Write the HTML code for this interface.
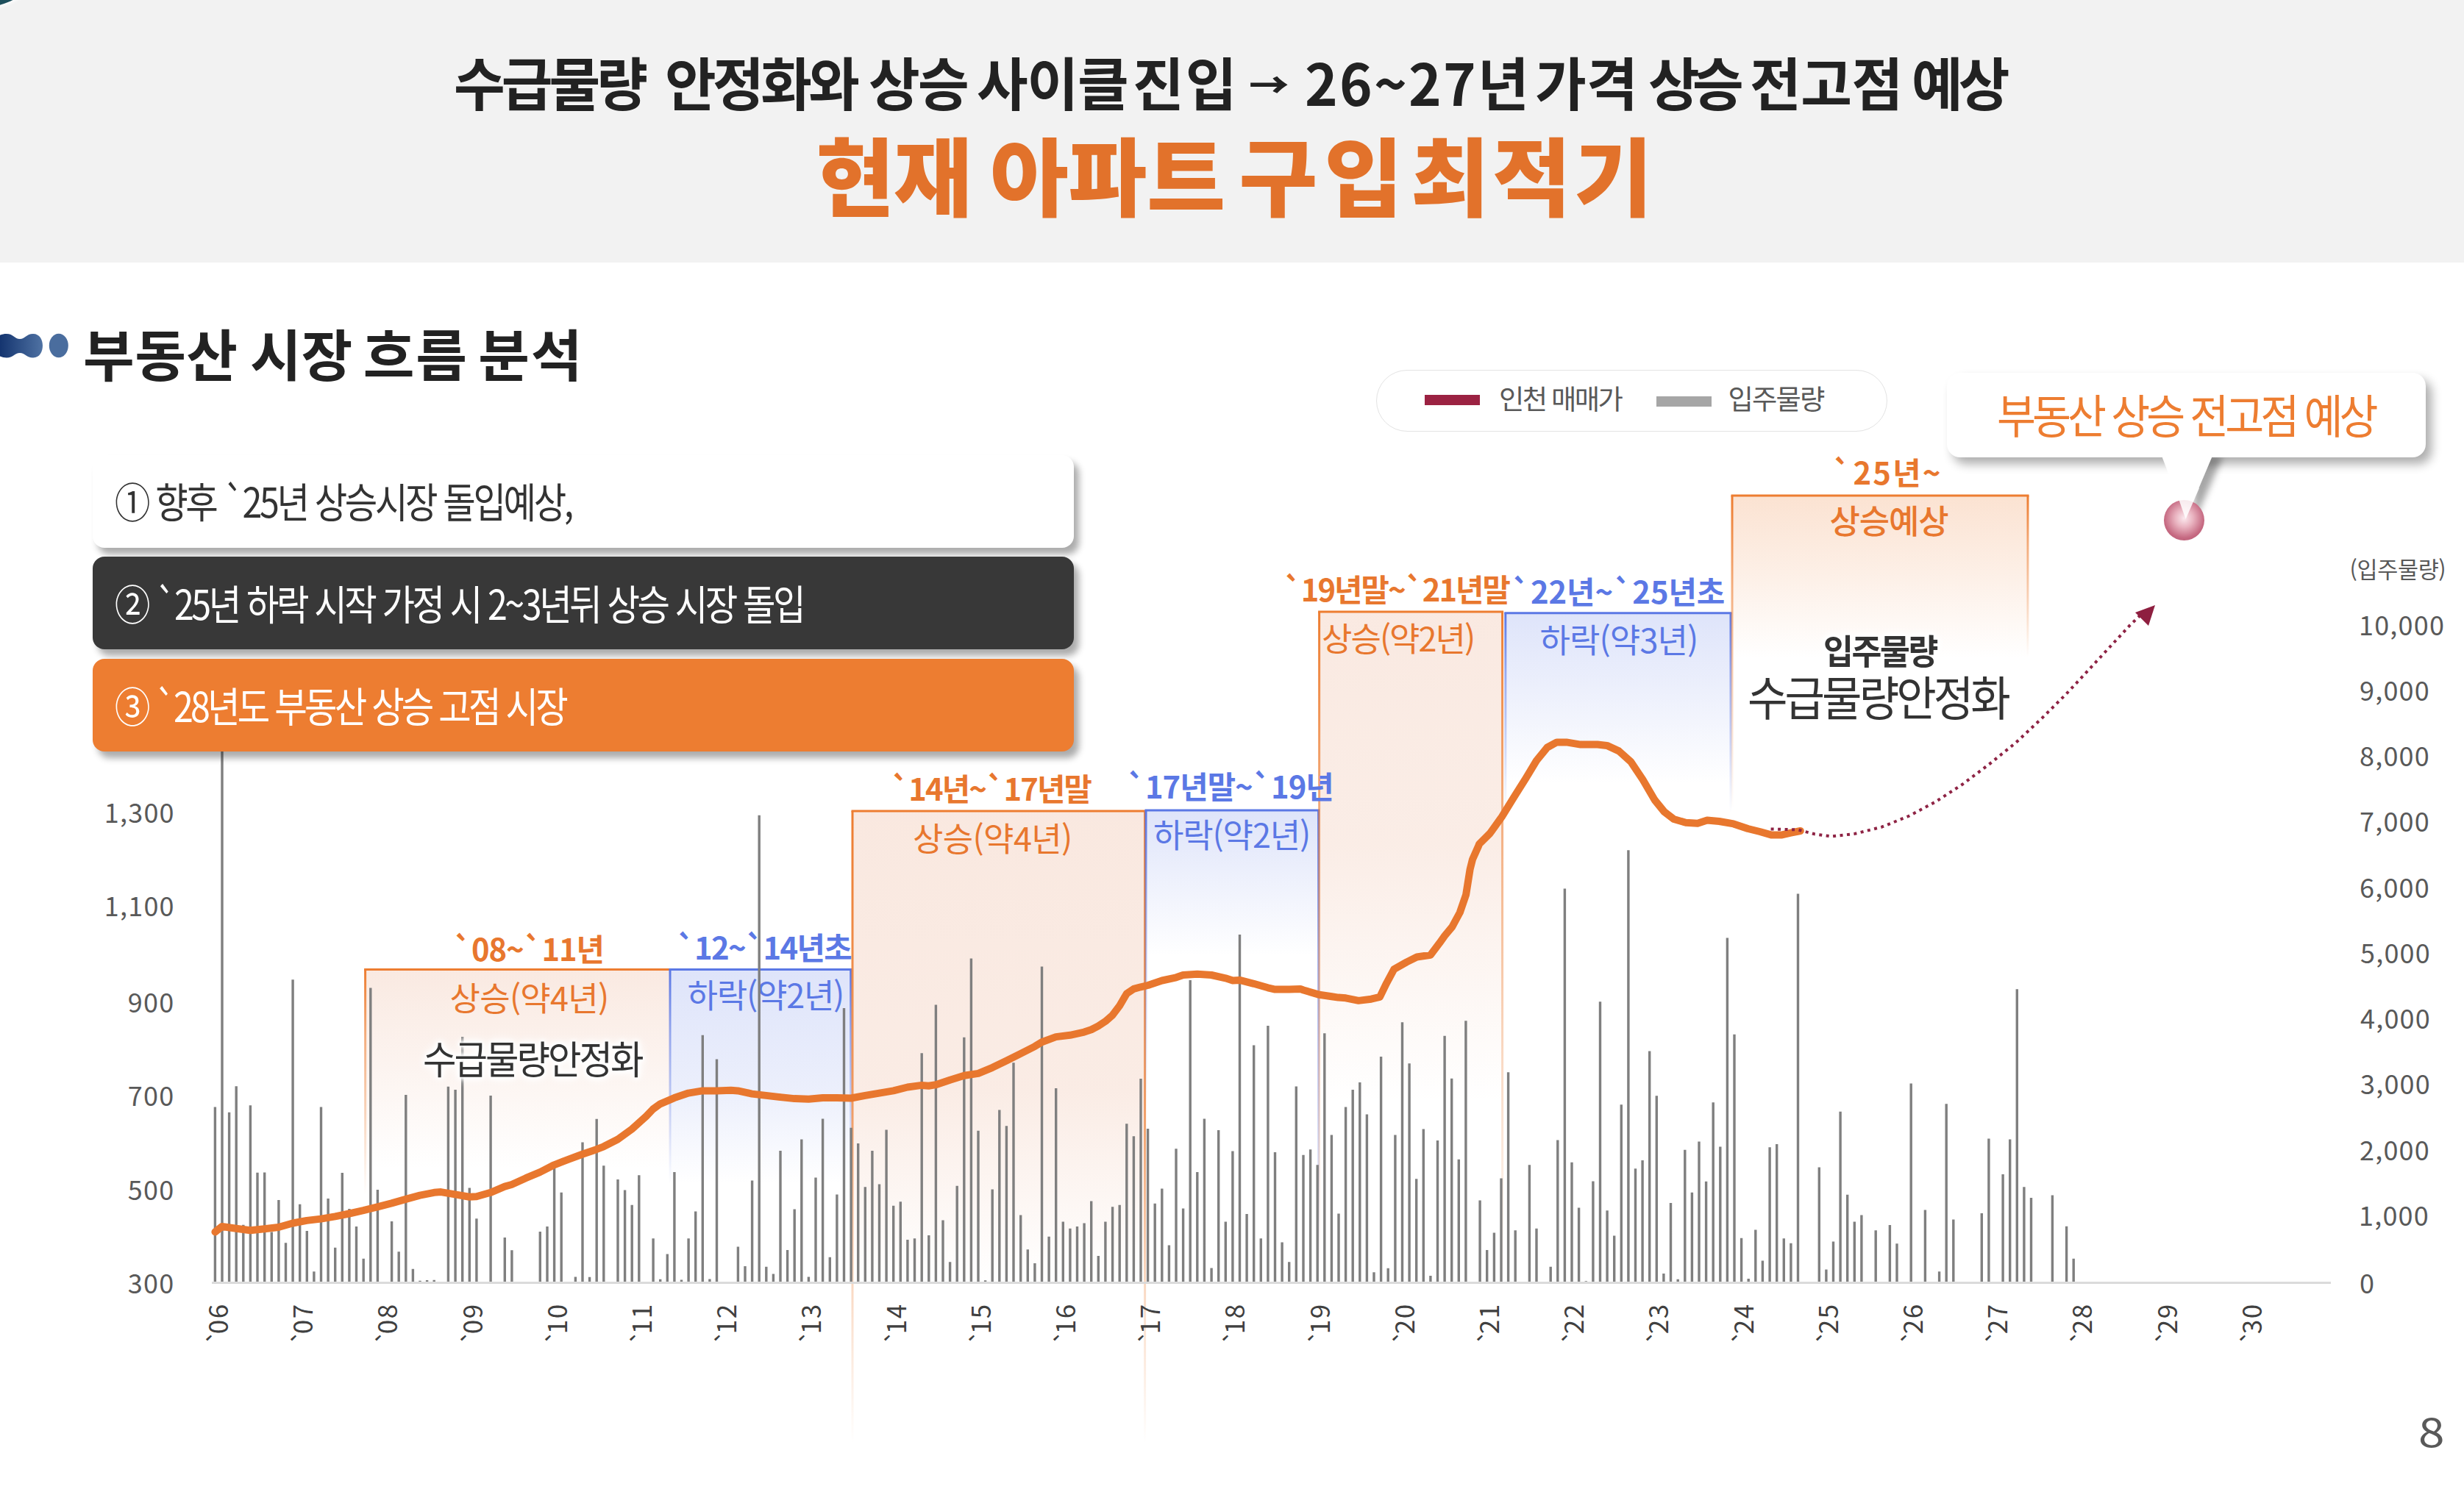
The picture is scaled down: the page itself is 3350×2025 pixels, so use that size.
<!DOCTYPE html>
<html lang="ko"><head><meta charset="utf-8"><title>부동산 시장 흐름 분석</title>
<style>
html,body{margin:0;padding:0;background:#fff}
body{width:3350px;height:2025px;position:relative;overflow:hidden;font-family:'Noto Sans CJK KR', 'Liberation Sans', sans-serif}
.t{position:absolute;white-space:pre;margin:0}
.g{position:absolute;left:0;top:0}
.hdr{position:absolute;left:0;top:0;width:3350px;height:357px;background:#f2f2f2}
.corner{position:absolute;left:-138px;top:-204.8px;width:216px;height:216px;border-radius:50%;background:#1d4f5c;box-shadow:0 3px 4px rgba(255,255,255,.8)}
.bx{position:absolute;left:126px;width:1334px;height:126px;border-radius:16px;box-shadow:7px 9px 10px rgba(0,0,0,.33)}
.legend{position:absolute;left:1871px;top:503px;width:693px;height:82px;border:1.5px solid #e3e3e3;border-radius:43px;background:#fff}
.sw{position:absolute;height:14px;width:75px}
.call{position:absolute;left:2647px;top:507px;width:651px;height:114.5px;border-radius:18px;background:#fff;box-shadow:8px 9px 14px rgba(0,0,0,.32)}
.ball{position:absolute;left:2941.5px;top:679.5px;width:55px;height:55px;border-radius:50%;background:radial-gradient(circle at 50% 45%,#fbe9ee 0%,#e9b3c0 30%,#c66a82 65%,#ad4c66 100%)}
</style></head><body>
<div class="hdr"></div><div class="corner"></div>
<svg class="g" width="100" height="60" style="left:0;top:440px" viewBox="0 0 100 60"><defs><linearGradient id="ig" x1="0" x2="1" y1="0" y2="0"><stop offset="0" stop-color="#0c2c68"/><stop offset="1" stop-color="#4f72a3"/></linearGradient></defs>
<path d="M-8 30 C-8 18 0 14 9 14 C18 14 20 21 27 21 C34 21 36 14 45 14 C54 14 58 22 58 30 C58 38 54 46.5 45 46.5 C36 46.5 34 40 27 40 C20 40 18 46.5 9 46.5 C0 46.5 -8 42 -8 30Z" fill="url(#ig)"/><ellipse cx="79.8" cy="30" rx="13" ry="16.2" fill="#4a6d9e"/></svg>
<svg class="g" width="3350" height="2025" viewBox="0 0 3350 2025"><defs><linearGradient id="b1f" gradientUnits="userSpaceOnUse" x1="0" y1="1318.6" x2="0" y2="1590"><stop offset="0.000" stop-color="#e1875a" stop-opacity="0.18"/><stop offset="0.447" stop-color="#e1875a" stop-opacity="0.1"/><stop offset="1.000" stop-color="#e1875a" stop-opacity="0"/></linearGradient><linearGradient id="b2f" gradientUnits="userSpaceOnUse" x1="0" y1="1318.6" x2="0" y2="1610"><stop offset="0.000" stop-color="#5b78e5" stop-opacity="0.2"/><stop offset="0.554" stop-color="#5b78e5" stop-opacity="0.12"/><stop offset="1.000" stop-color="#5b78e5" stop-opacity="0"/></linearGradient><linearGradient id="b3f" gradientUnits="userSpaceOnUse" x1="0" y1="1103" x2="0" y2="1745"><stop offset="0.000" stop-color="#e1875a" stop-opacity="0.19"/><stop offset="0.587" stop-color="#e1875a" stop-opacity="0.16"/><stop offset="1.000" stop-color="#e1875a" stop-opacity="0"/></linearGradient><linearGradient id="b4f" gradientUnits="userSpaceOnUse" x1="0" y1="1102" x2="0" y2="1300"><stop offset="0.000" stop-color="#5b78e5" stop-opacity="0.2"/><stop offset="0.394" stop-color="#5b78e5" stop-opacity="0.12"/><stop offset="1.000" stop-color="#5b78e5" stop-opacity="0"/></linearGradient><linearGradient id="b5f" gradientUnits="userSpaceOnUse" x1="0" y1="832" x2="0" y2="1500"><stop offset="0.000" stop-color="#e1875a" stop-opacity="0.18"/><stop offset="0.476" stop-color="#e1875a" stop-opacity="0.15"/><stop offset="1.000" stop-color="#e1875a" stop-opacity="0"/></linearGradient><linearGradient id="b6f" gradientUnits="userSpaceOnUse" x1="0" y1="833.7" x2="0" y2="1065"><stop offset="0.000" stop-color="#5b78e5" stop-opacity="0.2"/><stop offset="0.416" stop-color="#5b78e5" stop-opacity="0.12"/><stop offset="1.000" stop-color="#5b78e5" stop-opacity="0"/></linearGradient><linearGradient id="b7f" gradientUnits="userSpaceOnUse" x1="0" y1="674" x2="0" y2="895"><stop offset="0.000" stop-color="#ed7d31" stop-opacity="0.22"/><stop offset="0.480" stop-color="#ed7d31" stop-opacity="0.12"/><stop offset="1.000" stop-color="#ed7d31" stop-opacity="0"/></linearGradient><linearGradient id="b1l" gradientUnits="userSpaceOnUse" x1="0" y1="1318.6" x2="0" y2="1625"><stop offset="0.000" stop-color="#ed7d31" stop-opacity="1"/><stop offset="0.300" stop-color="#ed7d31" stop-opacity="0.6"/><stop offset="1.000" stop-color="#ed7d31" stop-opacity="0"/></linearGradient><linearGradient id="b2l" gradientUnits="userSpaceOnUse" x1="0" y1="1318.6" x2="0" y2="1610"><stop offset="0.000" stop-color="#5b78e5" stop-opacity="1"/><stop offset="0.300" stop-color="#5b78e5" stop-opacity="0.6"/><stop offset="1.000" stop-color="#5b78e5" stop-opacity="0"/></linearGradient><linearGradient id="b2r" gradientUnits="userSpaceOnUse" x1="0" y1="1318.6" x2="0" y2="1610"><stop offset="0.000" stop-color="#5b78e5" stop-opacity="1"/><stop offset="0.300" stop-color="#5b78e5" stop-opacity="0.6"/><stop offset="1.000" stop-color="#5b78e5" stop-opacity="0"/></linearGradient><linearGradient id="b3l" gradientUnits="userSpaceOnUse" x1="0" y1="1103" x2="0" y2="1962"><stop offset="0.000" stop-color="#ed7d31" stop-opacity="1"/><stop offset="0.462" stop-color="#ed7d31" stop-opacity="0.75"/><stop offset="0.747" stop-color="#ed7d31" stop-opacity="0.3"/><stop offset="1.000" stop-color="#ed7d31" stop-opacity="0"/></linearGradient><linearGradient id="b3r" gradientUnits="userSpaceOnUse" x1="0" y1="1103" x2="0" y2="1962"><stop offset="0.000" stop-color="#ed7d31" stop-opacity="1"/><stop offset="0.462" stop-color="#ed7d31" stop-opacity="0.75"/><stop offset="0.747" stop-color="#ed7d31" stop-opacity="0.3"/><stop offset="1.000" stop-color="#ed7d31" stop-opacity="0"/></linearGradient><linearGradient id="b4l" gradientUnits="userSpaceOnUse" x1="0" y1="1102" x2="0" y2="1500"><stop offset="0.000" stop-color="#5b78e5" stop-opacity="1"/><stop offset="0.300" stop-color="#5b78e5" stop-opacity="0.6"/><stop offset="1.000" stop-color="#5b78e5" stop-opacity="0"/></linearGradient><linearGradient id="b4r" gradientUnits="userSpaceOnUse" x1="0" y1="1102" x2="0" y2="1745"><stop offset="0.000" stop-color="#5b78e5" stop-opacity="1"/><stop offset="0.300" stop-color="#5b78e5" stop-opacity="0.6"/><stop offset="1.000" stop-color="#5b78e5" stop-opacity="0"/></linearGradient><linearGradient id="b5l" gradientUnits="userSpaceOnUse" x1="0" y1="832" x2="0" y2="1745"><stop offset="0.000" stop-color="#ed7d31" stop-opacity="1"/><stop offset="0.300" stop-color="#ed7d31" stop-opacity="0.6"/><stop offset="1.000" stop-color="#ed7d31" stop-opacity="0"/></linearGradient><linearGradient id="b5r" gradientUnits="userSpaceOnUse" x1="0" y1="832" x2="0" y2="1745"><stop offset="0.000" stop-color="#ed7d31" stop-opacity="1"/><stop offset="0.300" stop-color="#ed7d31" stop-opacity="0.6"/><stop offset="1.000" stop-color="#ed7d31" stop-opacity="0"/></linearGradient><linearGradient id="b6l" gradientUnits="userSpaceOnUse" x1="0" y1="833.7" x2="0" y2="1105"><stop offset="0.000" stop-color="#5b78e5" stop-opacity="1"/><stop offset="0.300" stop-color="#5b78e5" stop-opacity="0.6"/><stop offset="1.000" stop-color="#5b78e5" stop-opacity="0"/></linearGradient><linearGradient id="b6r" gradientUnits="userSpaceOnUse" x1="0" y1="833.7" x2="0" y2="1105"><stop offset="0.000" stop-color="#5b78e5" stop-opacity="1"/><stop offset="0.300" stop-color="#5b78e5" stop-opacity="0.6"/><stop offset="1.000" stop-color="#5b78e5" stop-opacity="0"/></linearGradient><linearGradient id="b7l" gradientUnits="userSpaceOnUse" x1="0" y1="674" x2="0" y2="1100"><stop offset="0.000" stop-color="#ed7d31" stop-opacity="1"/><stop offset="0.300" stop-color="#ed7d31" stop-opacity="0.6"/><stop offset="1.000" stop-color="#ed7d31" stop-opacity="0"/></linearGradient><linearGradient id="b7r" gradientUnits="userSpaceOnUse" x1="0" y1="674" x2="0" y2="893"><stop offset="0.000" stop-color="#ed7d31" stop-opacity="1"/><stop offset="0.300" stop-color="#ed7d31" stop-opacity="0.6"/><stop offset="1.000" stop-color="#ed7d31" stop-opacity="0"/></linearGradient></defs><rect x="496.6" y="1318.6" width="414.4" height="271.4000000000001" fill="url(#b1f)"/><rect x="911" y="1318.6" width="245.70000000000005" height="291.4000000000001" fill="url(#b2f)"/><rect x="1159" y="1103" width="397.5999999999999" height="642" fill="url(#b3f)"/><rect x="1558" y="1102" width="234.5999999999999" height="198" fill="url(#b4f)"/><rect x="1793.6" y="832" width="249.0" height="668" fill="url(#b5f)"/><rect x="2046.8" y="833.7" width="306.20000000000005" height="231.29999999999995" fill="url(#b6f)"/><rect x="2355" y="674" width="402" height="221" fill="url(#b7f)"/><line x1="495.1" y1="1318.6" x2="912.5" y2="1318.6" stroke="#ed7d31" stroke-width="3"/><rect x="495.1" y="1318.6" width="3" height="306.4000000000001" fill="url(#b1l)"/><line x1="909.5" y1="1318.6" x2="1158.2" y2="1318.6" stroke="#5b78e5" stroke-width="3"/><rect x="909.5" y="1318.6" width="3" height="291.4000000000001" fill="url(#b2l)"/><rect x="1155.2" y="1318.6" width="3" height="291.4000000000001" fill="url(#b2r)"/><line x1="1157.5" y1="1103" x2="1558.1" y2="1103" stroke="#ed7d31" stroke-width="3"/><rect x="1157.5" y="1103" width="3" height="859" fill="url(#b3l)"/><rect x="1555.1" y="1103" width="3" height="859" fill="url(#b3r)"/><line x1="1556.5" y1="1102" x2="1794.1" y2="1102" stroke="#5b78e5" stroke-width="3"/><rect x="1556.5" y="1102" width="3" height="398" fill="url(#b4l)"/><rect x="1791.1" y="1102" width="3" height="643" fill="url(#b4r)"/><line x1="1792.1" y1="832" x2="2044.1" y2="832" stroke="#ed7d31" stroke-width="3"/><rect x="1792.1" y="832" width="3" height="913" fill="url(#b5l)"/><rect x="2041.1" y="832" width="3" height="913" fill="url(#b5r)"/><line x1="2045.3" y1="833.7" x2="2354.5" y2="833.7" stroke="#5b78e5" stroke-width="3"/><rect x="2045.3" y="833.7" width="3" height="271.29999999999995" fill="url(#b6l)"/><rect x="2351.5" y="833.7" width="3" height="271.29999999999995" fill="url(#b6r)"/><line x1="2353.5" y1="674" x2="2758.5" y2="674" stroke="#ed7d31" stroke-width="3"/><rect x="2353.5" y="674" width="3" height="426" fill="url(#b7l)"/><rect x="2755.5" y="674" width="3" height="219" fill="url(#b7r)"/></svg>
<div class="t" style="font-size:41.78px;line-height:41.78px;font-weight:700;color:#e8772e;letter-spacing:-1.14px;left:616.0px;top:1269.0px;">`08~`11년</div>
<div class="t" style="font-size:41.78px;line-height:41.78px;font-weight:700;color:#5b78e5;letter-spacing:-1.67px;left:919.5px;top:1266.5px;">`12~`14년초</div>
<div class="t" style="font-size:41.78px;line-height:41.78px;font-weight:700;color:#e8772e;letter-spacing:-1.89px;left:1211.0px;top:1051.0px;">`14년~`17년말</div>
<div class="t" style="font-size:41.78px;line-height:41.78px;font-weight:700;color:#5b78e5;letter-spacing:-0.99px;left:1531.8px;top:1047.7px;">`17년말~`19년</div>
<div class="t" style="font-size:41.78px;line-height:41.78px;font-weight:700;color:#e8772e;letter-spacing:-2.01px;left:1744.7px;top:779.6px;">`19년말~`21년말</div>
<div class="t" style="font-size:41.78px;line-height:41.78px;font-weight:700;color:#5b78e5;letter-spacing:-0.04px;left:2054.8px;top:782.5px;">`22년~`25년초</div>
<div class="t" style="font-size:41.78px;line-height:41.78px;font-weight:700;color:#e8772e;letter-spacing:2.25px;left:2491.0px;top:621.0px;">`25년~</div>
<div class="t" style="font-size:45.05px;line-height:45.05px;font-weight:400;color:#e8772e;letter-spacing:-0.75px;left:611.5px;top:1333.0px;">상승(약4년)</div>
<div class="t" style="font-size:45.05px;line-height:45.05px;font-weight:400;color:#5b78e5;letter-spacing:-1.23px;left:934.5px;top:1328.8px;">하락(약2년)</div>
<div class="t" style="font-size:45.05px;line-height:45.05px;font-weight:400;color:#e8772e;letter-spacing:-0.67px;left:1241.0px;top:1115.5px;">상승(약4년)</div>
<div class="t" style="font-size:45.05px;line-height:45.05px;font-weight:400;color:#5b78e5;letter-spacing:-1.17px;left:1568.0px;top:1110.8px;">하락(약2년)</div>
<div class="t" style="font-size:45.05px;line-height:45.05px;font-weight:400;color:#e8772e;letter-spacing:-2.00px;left:1797.0px;top:843.5px;">상승(약2년)</div>
<div class="t" style="font-size:45.05px;line-height:45.05px;font-weight:400;color:#5b78e5;letter-spacing:-0.92px;left:2093.5px;top:845.9px;">하락(약3년)</div>
<div class="t" style="font-size:45.05px;line-height:45.05px;font-weight:500;color:#e8772e;letter-spacing:-1.23px;left:2487.6px;top:684.0px;">상승예상</div>
<svg class="g" width="3350" height="2025" viewBox="0 0 3350 2025"><rect x="288" y="1743.2" width="2881" height="2.8" fill="#d9d9d9"/><path d="M290.7 1505.5h3.4V1743.0h-3.4zM300.3 1000.0h3.4V1743.0h-3.4zM309.9 1512.7h3.4V1743.0h-3.4zM319.5 1477.2h3.4V1743.0h-3.4zM329.1 1665.8h3.4V1743.0h-3.4zM338.7 1503.2h3.4V1743.0h-3.4zM348.3 1594.8h3.4V1743.0h-3.4zM358.0 1594.4h3.4V1743.0h-3.4zM367.6 1675.5h3.4V1743.0h-3.4zM377.2 1631.9h3.4V1743.0h-3.4zM386.8 1690.2h3.4V1743.0h-3.4zM396.4 1332.2h3.4V1743.0h-3.4zM406.0 1637.8h3.4V1743.0h-3.4zM415.6 1673.9h3.4V1743.0h-3.4zM425.2 1729.3h3.4V1743.0h-3.4zM434.8 1505.5h3.4V1743.0h-3.4zM444.4 1629.9h3.4V1743.0h-3.4zM454.0 1696.7h3.4V1743.0h-3.4zM463.6 1595.1h3.4V1743.0h-3.4zM473.2 1643.9h3.4V1743.0h-3.4zM482.8 1668.0h3.4V1743.0h-3.4zM492.5 1711.7h3.4V1743.0h-3.4zM502.1 1343.6h3.4V1743.0h-3.4zM511.7 1617.9h3.4V1743.0h-3.4zM530.9 1660.9h3.4V1743.0h-3.4zM540.5 1702.2h3.4V1743.0h-3.4zM550.1 1488.9h3.4V1743.0h-3.4zM559.7 1725.7h3.4V1743.0h-3.4zM569.3 1741.7h3.4V1743.0h-3.4zM578.9 1741.0h3.4V1743.0h-3.4zM588.5 1740.7h3.4V1743.0h-3.4zM607.7 1477.8h3.4V1743.0h-3.4zM617.4 1482.1h3.4V1743.0h-3.4zM627.0 1410.1h3.4V1743.0h-3.4zM636.6 1615.6h3.4V1743.0h-3.4zM646.2 1657.3h3.4V1743.0h-3.4zM665.4 1489.9h3.4V1743.0h-3.4zM684.6 1683.0h3.4V1743.0h-3.4zM694.2 1700.3h3.4V1743.0h-3.4zM732.6 1674.9h3.4V1743.0h-3.4zM742.3 1668.0h3.4V1743.0h-3.4zM751.9 1586.0h3.4V1743.0h-3.4zM761.5 1621.8h3.4V1743.0h-3.4zM780.7 1736.4h3.4V1743.0h-3.4zM790.3 1553.4h3.4V1743.0h-3.4zM799.9 1736.8h3.4V1743.0h-3.4zM809.5 1521.8h3.4V1743.0h-3.4zM819.1 1585.3h3.4V1743.0h-3.4zM838.3 1603.9h3.4V1743.0h-3.4zM847.9 1618.5h3.4V1743.0h-3.4zM857.5 1638.7h3.4V1743.0h-3.4zM867.1 1598.3h3.4V1743.0h-3.4zM886.4 1684.3h3.4V1743.0h-3.4zM896.0 1739.7h3.4V1743.0h-3.4zM905.6 1705.5h3.4V1743.0h-3.4zM915.2 1594.1h3.4V1743.0h-3.4zM924.8 1740.4h3.4V1743.0h-3.4zM934.4 1684.3h3.4V1743.0h-3.4zM944.0 1647.5h3.4V1743.0h-3.4zM953.6 1407.8h3.4V1743.0h-3.4zM963.2 1739.4h3.4V1743.0h-3.4zM972.8 1440.4h3.4V1743.0h-3.4zM1001.7 1695.4h3.4V1743.0h-3.4zM1011.3 1722.1h3.4V1743.0h-3.4zM1020.9 1605.5h3.4V1743.0h-3.4zM1030.5 1108.8h3.4V1743.0h-3.4zM1040.1 1722.8h3.4V1743.0h-3.4zM1049.7 1732.5h3.4V1743.0h-3.4zM1059.3 1565.1h3.4V1743.0h-3.4zM1068.9 1700.0h3.4V1743.0h-3.4zM1078.5 1644.6h3.4V1743.0h-3.4zM1088.1 1549.5h3.4V1743.0h-3.4zM1097.7 1736.4h3.4V1743.0h-3.4zM1107.3 1601.6h3.4V1743.0h-3.4zM1116.9 1521.5h3.4V1743.0h-3.4zM1126.6 1709.7h3.4V1743.0h-3.4zM1136.2 1624.4h3.4V1743.0h-3.4zM1145.8 1371.0h3.4V1743.0h-3.4zM1155.4 1533.8h3.4V1743.0h-3.4zM1165.0 1555.0h3.4V1743.0h-3.4zM1174.6 1614.3h3.4V1743.0h-3.4zM1184.2 1565.1h3.4V1743.0h-3.4zM1193.8 1610.4h3.4V1743.0h-3.4zM1203.4 1536.4h3.4V1743.0h-3.4zM1213.0 1639.7h3.4V1743.0h-3.4zM1222.6 1634.2h3.4V1743.0h-3.4zM1232.2 1686.0h3.4V1743.0h-3.4zM1241.8 1684.3h3.4V1743.0h-3.4zM1251.5 1432.2h3.4V1743.0h-3.4zM1261.1 1680.1h3.4V1743.0h-3.4zM1270.7 1366.4h3.4V1743.0h-3.4zM1280.3 1659.6h3.4V1743.0h-3.4zM1289.9 1716.3h3.4V1743.0h-3.4zM1299.5 1612.7h3.4V1743.0h-3.4zM1309.1 1410.7h3.4V1743.0h-3.4zM1318.7 1303.6h3.4V1743.0h-3.4zM1328.3 1537.8h3.4V1743.0h-3.4zM1337.9 1741.3h3.4V1743.0h-3.4zM1347.5 1617.6h3.4V1743.0h-3.4zM1357.1 1509.4h3.4V1743.0h-3.4zM1366.7 1531.2h3.4V1743.0h-3.4zM1376.3 1445.2h3.4V1743.0h-3.4zM1386.0 1652.4h3.4V1743.0h-3.4zM1395.6 1699.3h3.4V1743.0h-3.4zM1405.2 1717.9h3.4V1743.0h-3.4zM1414.8 1314.6h3.4V1743.0h-3.4zM1424.4 1681.7h3.4V1743.0h-3.4zM1434.0 1480.1h3.4V1743.0h-3.4zM1443.6 1661.5h3.4V1743.0h-3.4zM1453.2 1670.7h3.4V1743.0h-3.4zM1462.8 1668.0h3.4V1743.0h-3.4zM1472.4 1663.5h3.4V1743.0h-3.4zM1482.0 1633.5h3.4V1743.0h-3.4zM1491.6 1708.1h3.4V1743.0h-3.4zM1501.2 1661.5h3.4V1743.0h-3.4zM1510.9 1641.3h3.4V1743.0h-3.4zM1520.5 1638.7h3.4V1743.0h-3.4zM1530.1 1528.3h3.4V1743.0h-3.4zM1539.7 1545.2h3.4V1743.0h-3.4zM1549.3 1467.1h3.4V1743.0h-3.4zM1558.9 1535.1h3.4V1743.0h-3.4zM1568.5 1636.8h3.4V1743.0h-3.4zM1578.1 1616.6h3.4V1743.0h-3.4zM1587.7 1693.5h3.4V1743.0h-3.4zM1597.3 1562.2h3.4V1743.0h-3.4zM1606.9 1643.6h3.4V1743.0h-3.4zM1616.5 1332.9h3.4V1743.0h-3.4zM1626.1 1594.1h3.4V1743.0h-3.4zM1635.7 1521.5h3.4V1743.0h-3.4zM1645.4 1724.4h3.4V1743.0h-3.4zM1655.0 1537.1h3.4V1743.0h-3.4zM1664.6 1661.5h3.4V1743.0h-3.4zM1674.2 1565.4h3.4V1743.0h-3.4zM1683.8 1271.0h3.4V1743.0h-3.4zM1693.4 1651.1h3.4V1743.0h-3.4zM1703.0 1421.5h3.4V1743.0h-3.4zM1712.6 1684.3h3.4V1743.0h-3.4zM1722.2 1395.1h3.4V1743.0h-3.4zM1731.8 1567.1h3.4V1743.0h-3.4zM1741.4 1689.5h3.4V1743.0h-3.4zM1751.0 1716.3h3.4V1743.0h-3.4zM1760.6 1477.5h3.4V1743.0h-3.4zM1770.3 1570.7h3.4V1743.0h-3.4zM1779.9 1563.2h3.4V1743.0h-3.4zM1789.5 1584.3h3.4V1743.0h-3.4zM1799.1 1405.2h3.4V1743.0h-3.4zM1808.7 1543.6h3.4V1743.0h-3.4zM1818.3 1650.5h3.4V1743.0h-3.4zM1827.9 1505.5h3.4V1743.0h-3.4zM1837.5 1482.1h3.4V1743.0h-3.4zM1847.1 1472.0h3.4V1743.0h-3.4zM1856.7 1515.6h3.4V1743.0h-3.4zM1866.3 1730.3h3.4V1743.0h-3.4zM1875.9 1437.1h3.4V1743.0h-3.4zM1885.5 1724.7h3.4V1743.0h-3.4zM1895.2 1543.6h3.4V1743.0h-3.4zM1904.8 1390.2h3.4V1743.0h-3.4zM1914.4 1446.2h3.4V1743.0h-3.4zM1924.0 1603.2h3.4V1743.0h-3.4zM1933.6 1535.5h3.4V1743.0h-3.4zM1943.2 1735.1h3.4V1743.0h-3.4zM1952.8 1551.1h3.4V1743.0h-3.4zM1962.4 1408.8h3.4V1743.0h-3.4zM1972.0 1466.7h3.4V1743.0h-3.4zM1981.6 1576.8h3.4V1743.0h-3.4zM1991.2 1388.2h3.4V1743.0h-3.4zM2010.4 1632.5h3.4V1743.0h-3.4zM2020.0 1700.0h3.4V1743.0h-3.4zM2029.7 1676.5h3.4V1743.0h-3.4zM2039.3 1602.6h3.4V1743.0h-3.4zM2048.9 1458.3h3.4V1743.0h-3.4zM2058.5 1673.3h3.4V1743.0h-3.4zM2077.7 1584.3h3.4V1743.0h-3.4zM2087.3 1670.7h3.4V1743.0h-3.4zM2106.5 1722.8h3.4V1743.0h-3.4zM2116.1 1550.5h3.4V1743.0h-3.4zM2125.7 1208.6h3.4V1743.0h-3.4zM2135.3 1580.7h3.4V1743.0h-3.4zM2144.9 1642.6h3.4V1743.0h-3.4zM2154.6 1742.3h3.4V1743.0h-3.4zM2164.2 1606.5h3.4V1743.0h-3.4zM2173.8 1362.2h3.4V1743.0h-3.4zM2183.4 1646.2h3.4V1743.0h-3.4zM2193.0 1680.4h3.4V1743.0h-3.4zM2202.6 1502.2h3.4V1743.0h-3.4zM2212.2 1156.3h3.4V1743.0h-3.4zM2221.8 1589.2h3.4V1743.0h-3.4zM2231.4 1578.1h3.4V1743.0h-3.4zM2241.0 1429.6h3.4V1743.0h-3.4zM2250.6 1490.2h3.4V1743.0h-3.4zM2260.2 1731.9h3.4V1743.0h-3.4zM2269.8 1636.1h3.4V1743.0h-3.4zM2279.5 1739.7h3.4V1743.0h-3.4zM2289.1 1563.8h3.4V1743.0h-3.4zM2298.7 1621.8h3.4V1743.0h-3.4zM2308.3 1552.4h3.4V1743.0h-3.4zM2317.9 1606.8h3.4V1743.0h-3.4zM2327.5 1499.3h3.4V1743.0h-3.4zM2337.1 1559.6h3.4V1743.0h-3.4zM2346.7 1275.5h3.4V1743.0h-3.4zM2356.3 1406.8h3.4V1743.0h-3.4zM2365.9 1683.7h3.4V1743.0h-3.4zM2375.5 1739.1h3.4V1743.0h-3.4zM2385.1 1672.6h3.4V1743.0h-3.4zM2394.7 1714.6h3.4V1743.0h-3.4zM2404.4 1560.2h3.4V1743.0h-3.4zM2414.0 1556.0h3.4V1743.0h-3.4zM2423.6 1684.3h3.4V1743.0h-3.4zM2433.2 1690.8h3.4V1743.0h-3.4zM2442.8 1215.5h3.4V1743.0h-3.4zM2471.6 1587.6h3.4V1743.0h-3.4zM2481.2 1726.4h3.4V1743.0h-3.4zM2490.8 1688.6h3.4V1743.0h-3.4zM2500.4 1511.7h3.4V1743.0h-3.4zM2510.0 1624.7h3.4V1743.0h-3.4zM2519.6 1661.5h3.4V1743.0h-3.4zM2529.2 1652.4h3.4V1743.0h-3.4zM2548.5 1673.3h3.4V1743.0h-3.4zM2567.7 1666.1h3.4V1743.0h-3.4zM2577.3 1691.2h3.4V1743.0h-3.4zM2596.5 1473.6h3.4V1743.0h-3.4zM2615.7 1645.6h3.4V1743.0h-3.4zM2634.9 1729.3h3.4V1743.0h-3.4zM2644.5 1501.3h3.4V1743.0h-3.4zM2654.1 1658.6h3.4V1743.0h-3.4zM2692.6 1650.1h3.4V1743.0h-3.4zM2702.2 1548.5h3.4V1743.0h-3.4zM2721.4 1597.0h3.4V1743.0h-3.4zM2731.0 1549.5h3.4V1743.0h-3.4zM2740.6 1345.2h3.4V1743.0h-3.4zM2750.2 1614.3h3.4V1743.0h-3.4zM2759.8 1629.0h3.4V1743.0h-3.4zM2788.7 1625.4h3.4V1743.0h-3.4zM2807.9 1667.7h3.4V1743.0h-3.4zM2817.5 1711.7h3.4V1743.0h-3.4z" fill="#7f7f7f"/><polyline points="292.4,1675.5 301.8,1668.0 321.0,1670.7 340.3,1673.3 359.5,1671.3 378.7,1669.0 397.9,1663.5 417.1,1659.9 436.4,1657.6 455.6,1654.4 474.8,1650.5 494.0,1646.2 513.2,1641.3 532.4,1636.4 551.7,1630.9 570.9,1625.7 590.1,1621.8 599.5,1621.1 618.8,1624.4 638.0,1627.7 647.8,1627.3 667.0,1621.8 686.2,1613.6 695.6,1611.0 714.9,1602.2 734.1,1594.1 753.3,1584.3 772.5,1576.8 791.7,1569.7 810.9,1563.2 820.7,1559.3 839.9,1549.5 859.2,1535.5 878.4,1518.2 887.8,1508.4 897.6,1501.3 916.8,1493.1 936.0,1486.6 955.2,1483.4 974.5,1483.4 993.7,1482.7 1003.1,1483.4 1022.3,1487.6 1041.6,1489.9 1060.8,1492.1 1061.0,1492.1 1080.2,1494.1 1099.4,1494.8 1118.6,1493.1 1137.9,1493.1 1157.1,1493.5 1176.3,1489.9 1195.5,1486.6 1214.7,1483.4 1233.9,1478.5 1253.2,1475.9 1262.6,1476.8 1272.4,1475.2 1291.6,1468.7 1310.8,1462.8 1330.0,1459.9 1349.3,1451.8 1368.5,1442.6 1387.7,1432.9 1406.9,1423.1 1416.4,1417.2 1435.6,1410.1 1454.8,1407.8 1474.0,1403.6 1483.8,1400.3 1493.2,1395.4 1503.0,1388.9 1512.4,1380.7 1522.2,1367.7 1531.7,1351.4 1541.4,1344.9 1550.9,1342.3 1560.7,1340.0 1579.9,1333.5 1599.1,1329.3 1608.5,1326.0 1627.8,1324.7 1647.0,1326.0 1666.2,1330.3 1676.0,1333.5 1685.4,1332.9 1704.6,1337.8 1723.8,1343.3 1733.6,1345.6 1752.8,1345.6 1767.9,1344.9 1772.1,1346.5 1791.3,1352.1 1792.0,1352.5 1810.5,1355.3 1819.6,1356.6 1829.7,1357.3 1847.1,1360.8 1848.9,1360.6 1864.3,1358.7 1876.0,1355.9 1885.0,1337.3 1895.3,1318.1 1912.5,1308.4 1926.3,1301.5 1944.9,1298.8 1957.3,1282.3 1964.2,1272.6 1974.5,1260.2 1984.8,1241.0 1993.1,1216.9 1998.6,1182.4 2002.0,1168.7 2010.3,1150.1 2011.0,1148.0 2025.7,1133.4 2042.0,1110.6 2058.0,1084.7 2074.4,1058.7 2089.0,1034.4 2103.6,1016.5 2116.6,1009.4 2129.6,1009.4 2149.0,1012.6 2171.8,1012.6 2184.8,1013.9 2201.0,1021.4 2217.3,1036.0 2233.5,1060.3 2249.7,1088.0 2262.7,1104.0 2275.7,1114.0 2292.0,1118.8 2308.0,1119.7 2321.0,1115.5 2337.4,1117.0 2356.9,1120.4 2376.4,1127.0 2392.6,1131.0 2408.8,1135.6 2421.8,1135.6 2434.8,1132.7 2447.8,1130.0" fill="none" stroke="#e8772e" stroke-width="10" stroke-linejoin="round" stroke-linecap="round"/><polyline points="2407.6,1127.5 2444.0,1128.4 2467.0,1134.3 2489.8,1137.5 2521.8,1133.9 2558.3,1124.7 2594.8,1110.0 2631.4,1090.5 2667.9,1066.8 2704.4,1039.4 2741.0,1009.7 2777.5,975.4 2809.5,943.5 2841.4,909.2 2868.8,879.5 2896.2,849.9 2915.0,832.0" fill="none" stroke="#8e2344" stroke-width="4" stroke-dasharray="4 5.5" stroke-linejoin="round"/><polygon points="2930,823 2903,833 2921,851" fill="#8e1f40"/></svg>
<div class="legend"></div><div class="sw" style="left:1937px;top:537px;background:#9b2242"></div><div class="sw" style="left:2252px;top:538.5px;background:#a6a6a6"></div>
<svg class="g" width="3350" height="2025" viewBox="0 0 3350 2025" style="pointer-events:none"><defs><filter id="ts" x="-50%" y="-50%" width="200%" height="200%"><feGaussianBlur stdDeviation="5"/></filter></defs>
<polygon points="2985,621 3022,621 2982,712" fill="rgba(0,0,0,.35)" filter="url(#ts)"/></svg>
<div class="call"></div>
<svg class="g" width="3350" height="2025" viewBox="0 0 3350 2025" style="pointer-events:none"><polygon points="2939,620 3008,620 2971.6,706" fill="#fff"/></svg>
<div class="ball"></div>
<svg class="g" width="3350" height="2025" viewBox="0 0 3350 2025" style="pointer-events:none"><polygon points="2952,650 2990,664 2971.6,706" fill="#fff" opacity=".85"/></svg>
<div class="bx" style="top:618.7px;background:#fff"></div>
<div class="bx" style="top:757px;background:#383838"></div>
<div class="bx" style="top:895.8px;background:#ed7d31"></div>
<div class="t" style="font-size:78.17px;line-height:78.17px;font-weight:700;color:#222;letter-spacing:-5.15px;left:617.0px;top:70.8px;transform-origin:0 50%;transform:scaleX(0.9700);">수급물량</div>
<div class="t" style="font-size:78.17px;line-height:78.17px;font-weight:700;color:#222;letter-spacing:-4.81px;left:904.0px;top:70.8px;transform-origin:0 50%;transform:scaleX(0.9700);">안정화와</div>
<div class="t" style="font-size:78.17px;line-height:78.17px;font-weight:700;color:#222;letter-spacing:-2.89px;left:1180.6px;top:70.8px;transform-origin:0 50%;transform:scaleX(0.9700);">상승</div>
<div class="t" style="font-size:78.17px;line-height:78.17px;font-weight:700;color:#222;letter-spacing:-1.34px;left:1328.0px;top:70.8px;transform-origin:0 50%;transform:scaleX(0.9700);">사이클</div>
<div class="t" style="font-size:78.17px;line-height:78.17px;font-weight:700;color:#222;letter-spacing:2.16px;left:1540.0px;top:71.2px;transform-origin:0 50%;transform:scaleX(0.9700);">진입</div>
<div class="t" style="font-size:46.67px;line-height:46.67px;font-weight:900;color:#222;left:1698.0px;top:90.3px;transform-origin:0 50%;transform:scaleX(1.1676);">→</div>
<div class="t" style="font-size:78.17px;line-height:78.17px;font-weight:700;color:#222;letter-spacing:2.29px;left:1774.0px;top:71.2px;transform-origin:0 50%;transform:scaleX(0.9700);">26~27년</div>
<div class="t" style="font-size:78.17px;line-height:78.17px;font-weight:700;color:#222;letter-spacing:0.31px;left:2086.7px;top:70.8px;transform-origin:0 50%;transform:scaleX(0.9700);">가격</div>
<div class="t" style="font-size:78.17px;line-height:78.17px;font-weight:700;color:#222;letter-spacing:-10.10px;left:2240.6px;top:70.8px;transform-origin:0 50%;transform:scaleX(0.9700);">상승</div>
<div class="t" style="font-size:78.17px;line-height:78.17px;font-weight:700;color:#222;letter-spacing:-0.52px;left:2379.0px;top:71.2px;transform-origin:0 50%;transform:scaleX(0.9700);">전고점</div>
<div class="t" style="font-size:78.17px;line-height:78.17px;font-weight:700;color:#222;letter-spacing:-6.19px;left:2599.0px;top:70.8px;transform-origin:0 50%;transform:scaleX(0.9700);">예상</div>
<div class="t" style="font-size:116.11px;line-height:116.11px;font-weight:900;color:#e2722b;letter-spacing:-1.30px;left:1109.4px;top:176.0px;">현재</div>
<div class="t" style="font-size:116.11px;line-height:116.11px;font-weight:900;color:#e2722b;letter-spacing:-0.25px;left:1346.0px;top:175.5px;">아파트</div>
<div class="t" style="font-size:116.11px;line-height:116.11px;font-weight:900;color:#e2722b;letter-spacing:9.20px;left:1684.6px;top:175.5px;">구입</div>
<div class="t" style="font-size:116.11px;line-height:116.11px;font-weight:900;color:#e2722b;letter-spacing:4.20px;left:1918.0px;top:175.5px;">최적기</div>
<div class="t" style="font-size:75.81px;line-height:75.81px;font-weight:700;color:#222;letter-spacing:0.40px;left:113.0px;top:441.8px;">부동산</div>
<div class="t" style="font-size:75.81px;line-height:75.81px;font-weight:700;color:#222;letter-spacing:-0.20px;left:340.0px;top:441.8px;">시장</div>
<div class="t" style="font-size:75.81px;line-height:75.81px;font-weight:700;color:#222;letter-spacing:1.80px;left:493.8px;top:441.8px;">흐름</div>
<div class="t" style="font-size:75.81px;line-height:75.81px;font-weight:700;color:#222;letter-spacing:1.80px;left:650.2px;top:441.8px;">분석</div>
<div class="t" style="font-size:56.25px;line-height:56.25px;font-weight:400;color:#333;letter-spacing:-3.94px;left:155.8px;top:652.0px;transform-origin:0 50%;transform:scaleX(0.8600);">① 향후 `25년 상승시장 돌입예상,</div>
<div class="t" style="font-size:56.25px;line-height:56.25px;font-weight:400;color:#fff;letter-spacing:-3.99px;left:155.8px;top:791.0px;transform-origin:0 50%;transform:scaleX(0.8600);">② `25년 하락 시작 가정 시 2~3년뒤 상승 시장 돌입</div>
<div class="t" style="font-size:56.25px;line-height:56.25px;font-weight:400;color:#fff;letter-spacing:-4.40px;left:155.8px;top:929.5px;transform-origin:0 50%;transform:scaleX(0.8600);">③ `28년도 부동산 상승 고점 시장</div>
<div class="t" style="font-size:37.36px;line-height:37.36px;font-weight:400;color:#595959;letter-spacing:-2.70px;left:2038.0px;top:523.0px;">인천 매매가</div>
<div class="t" style="font-size:37.36px;line-height:37.36px;font-weight:400;color:#595959;letter-spacing:-1.93px;left:2349.6px;top:523.0px;">입주물량</div>
<div class="t" style="font-size:62.64px;line-height:62.64px;font-weight:400;color:#ed7d31;letter-spacing:-5.43px;left:2715.0px;top:530.5px;transform-origin:0 50%;transform:scaleX(0.9200);">부동산 상승 전고점 예상</div>
<div class="t" style="font-size:53.19px;line-height:53.19px;font-weight:400;color:#333;letter-spacing:-3.23px;text-shadow:0 0 4px #fff,0 0 4px #fff,0 0 8px #fff,0 0 8px #fff,0 0 8px #fff,0 0 13px #fff,0 0 13px #fff,0 0 18px #fff;left:575.0px;top:1411.3px;transform-origin:0 50%;transform:scaleX(0.9300);">수급물량안정화</div>
<div class="t" style="font-size:46.77px;line-height:46.77px;font-weight:700;color:#333;letter-spacing:-2.46px;text-shadow:0 0 4px #fff,0 0 4px #fff,0 0 8px #fff,0 0 8px #fff,0 0 8px #fff,0 0 13px #fff,0 0 13px #fff,0 0 18px #fff;left:2478.5px;top:859.8px;transform-origin:0 50%;transform:scaleX(0.9500);">입주물량</div>
<div class="t" style="font-size:63.74px;line-height:63.74px;font-weight:400;color:#333;letter-spacing:-4.27px;text-shadow:0 0 4px #fff,0 0 4px #fff,0 0 8px #fff,0 0 8px #fff,0 0 8px #fff,0 0 13px #fff,0 0 13px #fff,0 0 18px #fff;left:2375.6px;top:913.5px;transform-origin:0 50%;transform:scaleX(0.9300);">수급물량안정화</div>
<div class="t" style="font-size:36.00px;line-height:36.00px;font-weight:400;color:#595959;letter-spacing:1.20px;left:173.8px;top:1725.0px;">300</div>
<div class="t" style="font-size:36.00px;line-height:36.00px;font-weight:400;color:#595959;letter-spacing:1.20px;left:173.8px;top:1597.6px;">500</div>
<div class="t" style="font-size:36.00px;line-height:36.00px;font-weight:400;color:#595959;letter-spacing:1.20px;left:173.8px;top:1470.2px;">700</div>
<div class="t" style="font-size:36.00px;line-height:36.00px;font-weight:400;color:#595959;letter-spacing:1.20px;left:173.8px;top:1342.8px;">900</div>
<div class="t" style="font-size:36.00px;line-height:36.00px;font-weight:400;color:#595959;letter-spacing:1.20px;left:141.8px;top:1212.4px;">1,100</div>
<div class="t" style="font-size:36.00px;line-height:36.00px;font-weight:400;color:#595959;letter-spacing:1.20px;left:141.8px;top:1085.0px;">1,300</div>
<div class="t" style="font-size:36.00px;line-height:36.00px;font-weight:400;color:#595959;letter-spacing:1.20px;left:3208.0px;top:1725.0px;">0</div>
<div class="t" style="font-size:36.00px;line-height:36.00px;font-weight:400;color:#595959;letter-spacing:1.20px;left:3207.0px;top:1632.8px;">1,000</div>
<div class="t" style="font-size:36.00px;line-height:36.00px;font-weight:400;color:#595959;letter-spacing:1.20px;left:3208.0px;top:1543.5px;">2,000</div>
<div class="t" style="font-size:36.00px;line-height:36.00px;font-weight:400;color:#595959;letter-spacing:1.20px;left:3209.0px;top:1454.2px;">3,000</div>
<div class="t" style="font-size:36.00px;line-height:36.00px;font-weight:400;color:#595959;letter-spacing:1.20px;left:3209.0px;top:1365.0px;">4,000</div>
<div class="t" style="font-size:36.00px;line-height:36.00px;font-weight:400;color:#595959;letter-spacing:1.20px;left:3209.0px;top:1275.8px;">5,000</div>
<div class="t" style="font-size:36.00px;line-height:36.00px;font-weight:400;color:#595959;letter-spacing:1.20px;left:3208.0px;top:1186.5px;">6,000</div>
<div class="t" style="font-size:36.00px;line-height:36.00px;font-weight:400;color:#595959;letter-spacing:1.20px;left:3208.0px;top:1097.2px;">7,000</div>
<div class="t" style="font-size:36.00px;line-height:36.00px;font-weight:400;color:#595959;letter-spacing:1.20px;left:3208.0px;top:1008.0px;">8,000</div>
<div class="t" style="font-size:36.00px;line-height:36.00px;font-weight:400;color:#595959;letter-spacing:1.20px;left:3208.0px;top:918.8px;">9,000</div>
<div class="t" style="font-size:36.00px;line-height:36.00px;font-weight:400;color:#595959;letter-spacing:1.20px;left:3207.0px;top:829.5px;">10,000</div>
<div class="t" style="font-size:30.50px;line-height:30.50px;font-weight:400;color:#595959;letter-spacing:-0.36px;left:3194.6px;top:758.0px;">(입주물량)</div>
<div class="t" style="font-size:53.33px;line-height:53.33px;font-weight:400;color:#595959;left:3288.0px;top:1917.5px;transform-origin:0 50%;transform:scaleX(1.2000);">8</div>
<div class="t" style="font-size:35.00px;line-height:35.00px;font-weight:400;color:#404040;left:0;top:0;transform-origin:0 0;transform:translate(295.0px,1822.5px) rotate(-90deg) translate(-6.0px,-18.0px);letter-spacing:1.5px;"><span style="letter-spacing:-7px">`</span>06</div>
<div class="t" style="font-size:35.00px;line-height:35.00px;font-weight:400;color:#404040;left:0;top:0;transform-origin:0 0;transform:translate(410.2px,1822.5px) rotate(-90deg) translate(-6.0px,-18.0px);letter-spacing:1.5px;"><span style="letter-spacing:-7px">`</span>07</div>
<div class="t" style="font-size:35.00px;line-height:35.00px;font-weight:400;color:#404040;left:0;top:0;transform-origin:0 0;transform:translate(525.4px,1822.5px) rotate(-90deg) translate(-6.0px,-18.0px);letter-spacing:1.5px;"><span style="letter-spacing:-7px">`</span>08</div>
<div class="t" style="font-size:35.00px;line-height:35.00px;font-weight:400;color:#404040;left:0;top:0;transform-origin:0 0;transform:translate(640.6px,1822.5px) rotate(-90deg) translate(-6.0px,-18.0px);letter-spacing:1.5px;"><span style="letter-spacing:-7px">`</span>09</div>
<div class="t" style="font-size:35.00px;line-height:35.00px;font-weight:400;color:#404040;left:0;top:0;transform-origin:0 0;transform:translate(755.8px,1822.5px) rotate(-90deg) translate(-6.0px,-18.0px);letter-spacing:1.5px;"><span style="letter-spacing:-7px">`</span>10</div>
<div class="t" style="font-size:35.00px;line-height:35.00px;font-weight:400;color:#404040;left:0;top:0;transform-origin:0 0;transform:translate(871.0px,1822.5px) rotate(-90deg) translate(-6.0px,-18.0px);letter-spacing:1.5px;"><span style="letter-spacing:-7px">`</span>11</div>
<div class="t" style="font-size:35.00px;line-height:35.00px;font-weight:400;color:#404040;left:0;top:0;transform-origin:0 0;transform:translate(986.2px,1822.5px) rotate(-90deg) translate(-6.0px,-18.0px);letter-spacing:1.5px;"><span style="letter-spacing:-7px">`</span>12</div>
<div class="t" style="font-size:35.00px;line-height:35.00px;font-weight:400;color:#404040;left:0;top:0;transform-origin:0 0;transform:translate(1101.4px,1822.5px) rotate(-90deg) translate(-6.0px,-18.0px);letter-spacing:1.5px;"><span style="letter-spacing:-7px">`</span>13</div>
<div class="t" style="font-size:35.00px;line-height:35.00px;font-weight:400;color:#404040;left:0;top:0;transform-origin:0 0;transform:translate(1216.6px,1822.5px) rotate(-90deg) translate(-6.0px,-18.0px);letter-spacing:1.5px;"><span style="letter-spacing:-7px">`</span>14</div>
<div class="t" style="font-size:35.00px;line-height:35.00px;font-weight:400;color:#404040;left:0;top:0;transform-origin:0 0;transform:translate(1331.8px,1822.5px) rotate(-90deg) translate(-6.0px,-18.0px);letter-spacing:1.5px;"><span style="letter-spacing:-7px">`</span>15</div>
<div class="t" style="font-size:35.00px;line-height:35.00px;font-weight:400;color:#404040;left:0;top:0;transform-origin:0 0;transform:translate(1447.0px,1822.5px) rotate(-90deg) translate(-6.0px,-18.0px);letter-spacing:1.5px;"><span style="letter-spacing:-7px">`</span>16</div>
<div class="t" style="font-size:35.00px;line-height:35.00px;font-weight:400;color:#404040;left:0;top:0;transform-origin:0 0;transform:translate(1562.2px,1822.5px) rotate(-90deg) translate(-6.0px,-18.0px);letter-spacing:1.5px;"><span style="letter-spacing:-7px">`</span>17</div>
<div class="t" style="font-size:35.00px;line-height:35.00px;font-weight:400;color:#404040;left:0;top:0;transform-origin:0 0;transform:translate(1677.4px,1822.5px) rotate(-90deg) translate(-6.0px,-18.0px);letter-spacing:1.5px;"><span style="letter-spacing:-7px">`</span>18</div>
<div class="t" style="font-size:35.00px;line-height:35.00px;font-weight:400;color:#404040;left:0;top:0;transform-origin:0 0;transform:translate(1792.6px,1822.5px) rotate(-90deg) translate(-6.0px,-18.0px);letter-spacing:1.5px;"><span style="letter-spacing:-7px">`</span>19</div>
<div class="t" style="font-size:35.00px;line-height:35.00px;font-weight:400;color:#404040;left:0;top:0;transform-origin:0 0;transform:translate(1907.8px,1822.5px) rotate(-90deg) translate(-6.0px,-18.0px);letter-spacing:1.5px;"><span style="letter-spacing:-7px">`</span>20</div>
<div class="t" style="font-size:35.00px;line-height:35.00px;font-weight:400;color:#404040;left:0;top:0;transform-origin:0 0;transform:translate(2023.0px,1822.5px) rotate(-90deg) translate(-6.0px,-18.0px);letter-spacing:1.5px;"><span style="letter-spacing:-7px">`</span>21</div>
<div class="t" style="font-size:35.00px;line-height:35.00px;font-weight:400;color:#404040;left:0;top:0;transform-origin:0 0;transform:translate(2138.2px,1822.5px) rotate(-90deg) translate(-6.0px,-18.0px);letter-spacing:1.5px;"><span style="letter-spacing:-7px">`</span>22</div>
<div class="t" style="font-size:35.00px;line-height:35.00px;font-weight:400;color:#404040;left:0;top:0;transform-origin:0 0;transform:translate(2253.4px,1822.5px) rotate(-90deg) translate(-6.0px,-18.0px);letter-spacing:1.5px;"><span style="letter-spacing:-7px">`</span>23</div>
<div class="t" style="font-size:35.00px;line-height:35.00px;font-weight:400;color:#404040;left:0;top:0;transform-origin:0 0;transform:translate(2368.6px,1822.5px) rotate(-90deg) translate(-6.0px,-18.0px);letter-spacing:1.5px;"><span style="letter-spacing:-7px">`</span>24</div>
<div class="t" style="font-size:35.00px;line-height:35.00px;font-weight:400;color:#404040;left:0;top:0;transform-origin:0 0;transform:translate(2483.8px,1822.5px) rotate(-90deg) translate(-6.0px,-18.0px);letter-spacing:1.5px;"><span style="letter-spacing:-7px">`</span>25</div>
<div class="t" style="font-size:35.00px;line-height:35.00px;font-weight:400;color:#404040;left:0;top:0;transform-origin:0 0;transform:translate(2599.0px,1822.5px) rotate(-90deg) translate(-6.0px,-18.0px);letter-spacing:1.5px;"><span style="letter-spacing:-7px">`</span>26</div>
<div class="t" style="font-size:35.00px;line-height:35.00px;font-weight:400;color:#404040;left:0;top:0;transform-origin:0 0;transform:translate(2714.2px,1822.5px) rotate(-90deg) translate(-6.0px,-18.0px);letter-spacing:1.5px;"><span style="letter-spacing:-7px">`</span>27</div>
<div class="t" style="font-size:35.00px;line-height:35.00px;font-weight:400;color:#404040;left:0;top:0;transform-origin:0 0;transform:translate(2829.4px,1822.5px) rotate(-90deg) translate(-6.0px,-18.0px);letter-spacing:1.5px;"><span style="letter-spacing:-7px">`</span>28</div>
<div class="t" style="font-size:35.00px;line-height:35.00px;font-weight:400;color:#404040;left:0;top:0;transform-origin:0 0;transform:translate(2944.6px,1822.5px) rotate(-90deg) translate(-6.0px,-18.0px);letter-spacing:1.5px;"><span style="letter-spacing:-7px">`</span>29</div>
<div class="t" style="font-size:35.00px;line-height:35.00px;font-weight:400;color:#404040;left:0;top:0;transform-origin:0 0;transform:translate(3059.8px,1822.5px) rotate(-90deg) translate(-6.0px,-18.0px);letter-spacing:1.5px;"><span style="letter-spacing:-7px">`</span>30</div>
</body></html>
